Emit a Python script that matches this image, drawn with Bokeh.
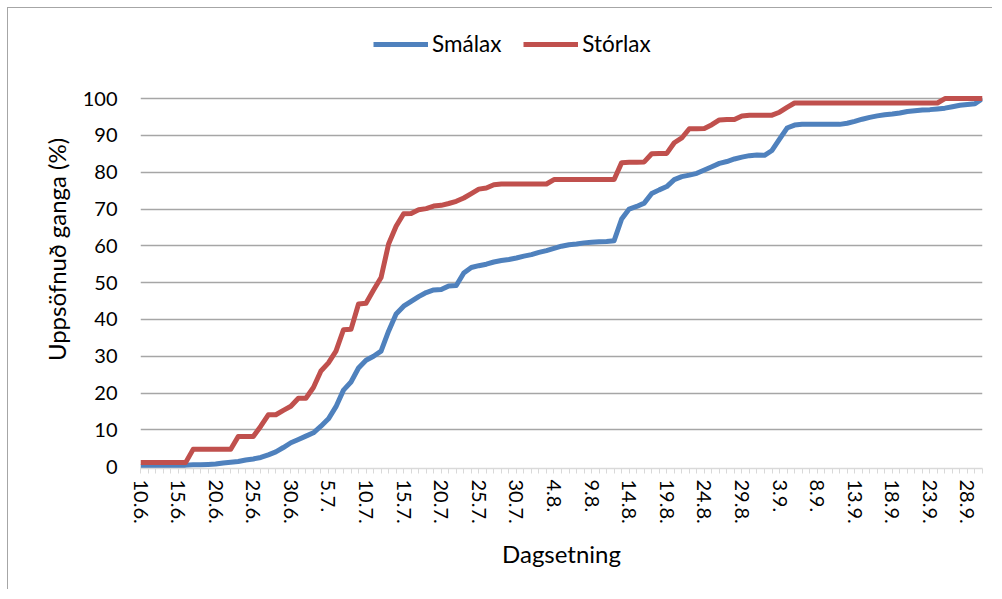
from bokeh.plotting import figure
from bokeh.models import Range1d, FixedTicker, Legend, LegendItem, Title
from bokeh.embed import file_html
from bokeh.resources import INLINE

# Cumulative run (%) per day, 10.6. to 30.9.
smalax = [0.0, 0.0, 0.0, 0.0, 0.0, 0.0, 0.4, 0.5, 0.5, 0.6,
          0.7, 1.0, 1.2, 1.4, 1.8, 2.1, 2.5, 3.2, 4.0, 5.2,
          6.5, 7.4, 8.3, 9.2, 11.0, 13.0, 16.3, 20.8, 23.0, 26.8,
          28.9, 30.0, 31.4, 36.8, 41.5, 43.6, 44.9, 46.2, 47.3, 48.0,
          48.1, 49.1, 49.2, 52.6, 54.1, 54.6, 55.0, 55.6, 56.0, 56.3,
          56.7, 57.2, 57.6, 58.2, 58.7, 59.3, 59.9, 60.3, 60.5, 60.8,
          61.0, 61.1, 61.2, 61.4, 67.3, 70.0, 70.7, 71.6, 74.2, 75.2,
          76.1, 78.0, 78.8, 79.2, 79.7, 80.6, 81.5, 82.4, 82.9, 83.6,
          84.1, 84.5, 84.7, 84.6, 85.9, 89.0, 92.0, 92.8, 93.0, 93.0,
          93.0, 93.0, 93.0, 93.0, 93.3, 93.8, 94.4, 94.9, 95.3, 95.6,
          95.8, 96.1, 96.5, 96.7, 96.9, 97.0, 97.2, 97.4, 97.8, 98.2,
          98.4, 98.6, 100.0]
storlax = [1.1, 1.1, 1.1, 1.1, 1.1, 1.1, 1.1, 4.7, 4.7, 4.7,
           4.7, 4.7, 4.7, 8.2, 8.2, 8.2, 11.0, 14.1, 14.1, 15.3,
           16.4, 18.6, 18.6, 21.5, 26.0, 28.2, 31.4, 37.2, 37.3, 44.2,
           44.4, 48.0, 51.4, 60.5, 65.3, 68.7, 68.8, 69.8, 70.1, 70.8,
           71.0, 71.5, 72.1, 73.0, 74.2, 75.4, 75.7, 76.6, 76.8, 76.8,
           76.8, 76.8, 76.8, 76.8, 76.8, 78.0, 78.0, 78.0, 78.0, 78.0,
           78.0, 78.0, 78.0, 78.0, 82.6, 82.7, 82.7, 82.8, 85.0, 85.1,
           85.1, 88.0, 89.3, 91.8, 91.8, 91.9, 92.9, 94.2, 94.3, 94.3,
           95.3, 95.5, 95.5, 95.5, 95.5, 96.3, 97.6, 98.8, 98.8, 98.8,
           98.8, 98.8, 98.8, 98.8, 98.8, 98.8, 98.8, 98.8, 98.8, 98.8,
           98.8, 98.8, 98.8, 98.8, 98.8, 98.8, 98.8, 100.0, 100.0, 100.0,
           100.0, 100.0, 100.0]
tick_labels = ["10.6.", "15.6.", "20.6.", "25.6.", "30.6.", "5.7.", "10.7.",
               "15.7.", "20.7.", "25.7.", "30.7.", "4.8.", "9.8.", "14.8.",
               "19.8.", "24.8.", "29.8.", "3.9.", "8.9.", "13.9.", "18.9.",
               "23.9.", "28.9."]
y_ticks = [0, 10, 20, 30, 40, 50, 60, 70, 80, 90, 100]
series_names = ["Smálax", "Stórlax"]
x_title = "Dagsetning"
y_title = "Uppsöfnuð ganga (%)"

days = list(range(len(smalax)))
FONT = "Lato"

# frame extends above 100 so that the legend fits inside it
p = figure(width=985, height=582, output_backend="svg", toolbar_location=None,
           x_range=Range1d(0, days[-1]), y_range=Range1d(-0.5, 118.5),
           min_border_left=132, min_border_right=11,
           min_border_top=22, min_border_bottom=122)
p.styles = {"margin-left": "7px", "margin-top": "7px",
            "border-left": "1px solid #a6a6a6", "border-top": "1px solid #a6a6a6"}
p.outline_line_color = None
p.background_fill_color = "white"
p.border_fill_color = "white"

p.xgrid.visible = False
p.ygrid.ticker = FixedTicker(ticks=y_ticks[1:])
p.ygrid.grid_line_color = "#a6a6a6"
p.ygrid.grid_line_width = 1.5

xa = p.xaxis[0]
xa.ticker = FixedTicker(ticks=days, minor_ticks=[])
xa.major_label_overrides = {d: (tick_labels[d // 5] if d % 5 == 0 else "") for d in days}
xa.major_label_orientation = "vertical"
xa.axis_line_color = "#d9d9d9"
xa.axis_line_width = 1.5
xa.major_tick_line_color = "#d9d9d9"
xa.major_tick_out = 5
xa.major_tick_in = 0
xa.minor_tick_line_color = None
xa.major_label_standoff = 6
xa.major_label_text_font = FONT
xa.major_label_text_font_size = "20px"
xa.major_label_text_color = "black"
xa.axis_label = x_title
xa.axis_label_text_font = FONT
xa.axis_label_text_font_size = "24px"
xa.axis_label_text_font_style = "normal"
xa.axis_label_text_color = "black"
xa.axis_label_standoff = 12

ya = p.yaxis[0]
ya.ticker = FixedTicker(ticks=y_ticks, minor_ticks=[])
ya.axis_line_color = None
ya.major_tick_line_color = None
ya.minor_tick_line_color = None
ya.major_tick_out = 0
ya.major_tick_in = 0
ya.major_label_standoff = 23
ya.major_label_text_font = FONT
ya.major_label_text_font_size = "20px"
ya.major_label_text_color = "black"

# y-axis title as a left-side title, shifted down to centre on the 0-100 band
ytitle = Title(text=y_title, align="center", offset=-32, standoff=17,
               text_font=FONT, text_font_size="24px", text_font_style="normal",
               text_color="black")
p.add_layout(ytitle, "left")

r1 = p.line(days, smalax, line_width=5, line_color="#4F81BD", line_join="round")
r2 = p.line(days, storlax, line_width=5, line_color="#C0504D", line_join="round")

legend = Legend(items=[LegendItem(label=series_names[0], renderers=[r1]),
                       LegendItem(label=series_names[1], renderers=[r2])],
                orientation="horizontal", location=(233, 411),
                glyph_width=55, glyph_height=20, label_standoff=4, spacing=22,
                padding=0, margin=0, border_line_color=None,
                background_fill_alpha=0,
                label_text_font=FONT, label_text_font_size="22.5px",
                label_text_color="black")
p.add_layout(legend)

open("out.html", "w").write(file_html(p, INLINE))
